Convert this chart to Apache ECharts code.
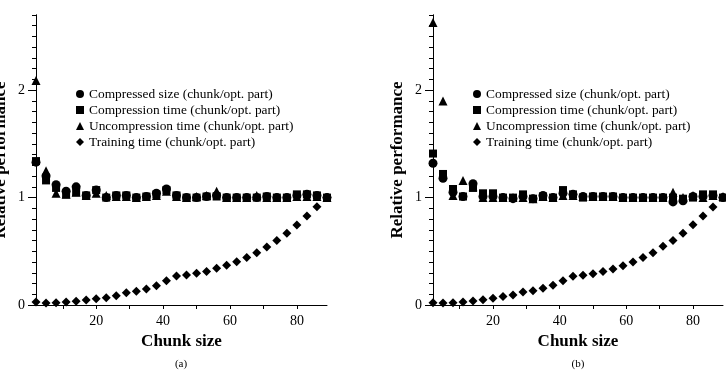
<!DOCTYPE html>
<html>
<head>
<meta charset="utf-8">
<script src="https://cdn.jsdelivr.net/npm/echarts@6/dist/echarts.min.js"></script>
<style>
  html, body {margin: 0; padding: 0; background: #fff;}
  #chart {width: 726px; height: 371px;}
</style>
</head>
<body>
<div id="chart"></div>
<script>
// chunk sizes on the x axis
const chunkSizes = [2, 5, 8, 11, 14, 17, 20, 23, 26, 29, 32, 35, 38, 41, 44, 47, 50, 53, 56, 59, 62, 65, 68, 71, 74, 77, 80, 83, 86, 89];

// panel (a)
const sizeA = [1.33, 1.20, 1.12, 1.06, 1.10, 1.02, 1.07, 1.00, 1.02, 1.02, 1.00, 1.01, 1.04, 1.08, 1.02, 1.00, 1.00, 1.01, 1.02, 1.00, 1.00, 1.00, 1.00, 1.01, 1.00, 1.00, 1.02, 1.03, 1.02, 1.00];
const compA = [1.34, 1.16, 1.09, 1.03, 1.05, 1.02, 1.07, 1.00, 1.02, 1.02, 1.00, 1.01, 1.03, 1.07, 1.02, 1.00, 1.00, 1.01, 1.01, 1.00, 1.00, 1.00, 1.00, 1.01, 1.00, 1.00, 1.03, 1.03, 1.02, 1.00];
const uncompA = [2.09, 1.25, 1.04, 1.03, 1.05, 1.02, 1.04, 1.02, 1.01, 1.01, 1.00, 1.01, 1.02, 1.06, 1.01, 1.00, 1.01, 1.02, 1.06, 1.00, 1.00, 1.00, 1.02, 1.00, 1.00, 1.00, 1.01, 1.01, 1.01, 1.00];
const trainA = [0.028, 0.019, 0.022, 0.028, 0.034, 0.047, 0.059, 0.068, 0.087, 0.115, 0.127, 0.149, 0.18, 0.226, 0.27, 0.279, 0.295, 0.313, 0.341, 0.369, 0.403, 0.443, 0.487, 0.54, 0.60, 0.667, 0.744, 0.828, 0.914, 1.0];

// panel (b)
const sizeB = [1.32, 1.18, 1.05, 1.01, 1.13, 1.01, 1.01, 1.00, 0.99, 1.01, 0.99, 1.02, 1.00, 1.04, 1.03, 1.01, 1.01, 1.01, 1.01, 1.00, 1.00, 1.00, 1.00, 1.00, 0.96, 0.97, 1.01, 1.01, 1.02, 1.00];
const compB = [1.41, 1.22, 1.08, 1.01, 1.09, 1.04, 1.04, 1.00, 1.00, 1.03, 0.99, 1.01, 1.00, 1.07, 1.03, 1.00, 1.01, 1.01, 1.01, 1.00, 1.00, 1.00, 1.00, 1.00, 1.00, 0.99, 1.00, 1.03, 1.03, 1.00];
const uncompB = [2.63, 1.90, 1.02, 1.16, 1.10, 1.00, 1.00, 1.00, 1.00, 1.00, 0.99, 1.01, 1.00, 1.02, 1.02, 1.01, 1.01, 1.01, 1.01, 1.00, 1.00, 1.00, 1.00, 1.00, 1.05, 1.00, 1.02, 1.00, 1.02, 1.01];
const trainB = [0.022, 0.019, 0.022, 0.028, 0.037, 0.05, 0.062, 0.078, 0.093, 0.121, 0.133, 0.155, 0.183, 0.226, 0.267, 0.276, 0.29, 0.313, 0.335, 0.366, 0.40, 0.443, 0.487, 0.546, 0.60, 0.667, 0.747, 0.828, 0.912, 1.0];

const seriesNames = ['Compressed size (chunk/opt. part)', 'Compression time (chunk/opt. part)', 'Uncompression time (chunk/opt. part)', 'Training time (chunk/opt. part)'];
const symbols = ['circle', 'rect', 'triangle', 'diamond'];
const symbolSizes = [9, 8, 9, 9];

// ticks
const xTicks = [10, 20, 30, 40, 50, 60, 70, 80];
const xLabels = [20, 40, 60, 80];
const yLabels = [0, 1, 2];
const yMinorTicks = [];
for (let i = 0; i <= 27; i++) yMinorTicks.push(+(i / 10).toFixed(1));

const font = 'Liberation Serif';
const black = '#000';

function pairs(ys) {
    return chunkSizes.map((x, i) => [x, ys[i]]);
}

function xAxisFor(gridIndex) {
    return {
        type: 'value', gridIndex: gridIndex, min: 2, max: 89,
        name: 'Chunk size', nameLocation: 'middle', nameGap: 27,
        nameTextStyle: {fontFamily: font, fontWeight: 'bold', fontSize: 17, color: black},
        axisLine: {lineStyle: {color: black, width: 1}},
        axisTick: {show: true, inside: false, length: 4, customValues: xTicks, lineStyle: {color: black}},
        axisLabel: {customValues: xLabels, fontFamily: font, fontSize: 14, color: black, margin: 9},
        splitLine: {show: false}
    };
}

function yAxisMajor(gridIndex) {
    return {
        type: 'value', gridIndex: gridIndex, min: 0, max: 2.7,
        name: 'Relative performance', nameLocation: 'middle', nameGap: 27,
        nameTextStyle: {fontFamily: font, fontWeight: 'bold', fontSize: 17, color: black},
        axisLine: {show: true, lineStyle: {color: black, width: 1}},
        axisTick: {show: true, length: 8, customValues: yLabels, lineStyle: {color: black}},
        axisLabel: {customValues: yLabels, fontFamily: font, fontSize: 14, color: black, margin: 11},
        splitLine: {show: false}
    };
}

function yAxisMinor(gridIndex) {
    return {
        type: 'value', gridIndex: gridIndex, min: 0, max: 2.7, position: 'left',
        axisLine: {show: true, lineStyle: {color: black, width: 1}},
        axisTick: {show: true, length: 4, customValues: yMinorTicks, lineStyle: {color: black}},
        axisLabel: {show: false},
        splitLine: {show: false}
    };
}

function panelSeries(data, axisIndex) {
    return data.map((ys, k) => ({
        name: seriesNames[k],
        type: 'scatter',
        xAxisIndex: axisIndex,
        yAxisIndex: axisIndex * 2,
        symbol: symbols[k],
        symbolSize: symbolSizes[k],
        itemStyle: {color: black, opacity: 1},
        data: pairs(ys),
        z: 3 + k
    }));
}

function legendFor(left) {
    return {
        left: left, top: 86, orient: 'vertical', padding: 0,
        itemWidth: 8, itemHeight: 8, itemGap: 0,
        selectedMode: false,
        data: seriesNames.map((n, k) => ({name: n, icon: symbols[k]})),
        textStyle: {fontFamily: font, fontSize: 13.4, color: black, lineHeight: 16}
    };
}

let myChart = echarts.init(document.getElementById('chart'));
myChart.setOption({
    animation: false,
    backgroundColor: '#fff',
    grid: [
        {left: 36, top: 15, width: 291, height: 290, outerBoundsMode: 'none', containLabel: false},
        {left: 433, top: 15, width: 290, height: 290, outerBoundsMode: 'none', containLabel: false}
    ],
    xAxis: [xAxisFor(0), xAxisFor(1)],
    yAxis: [yAxisMajor(0), yAxisMinor(0), yAxisMajor(1), yAxisMinor(1)],
    legend: [legendFor(76), legendFor(473)],
    graphic: [
        {type: 'text', x: 181, y: 364, style: {text: '(a)', font: '11px "Liberation Serif"', fill: black, textAlign: 'center', textVerticalAlign: 'middle'}},
        {type: 'text', x: 578, y: 364, style: {text: '(b)', font: '11px "Liberation Serif"', fill: black, textAlign: 'center', textVerticalAlign: 'middle'}}
    ],
    series: panelSeries([sizeA, compA, uncompA, trainA], 0)
        .concat(panelSeries([sizeB, compB, uncompB, trainB], 1))
});
</script>
</body>
</html>
